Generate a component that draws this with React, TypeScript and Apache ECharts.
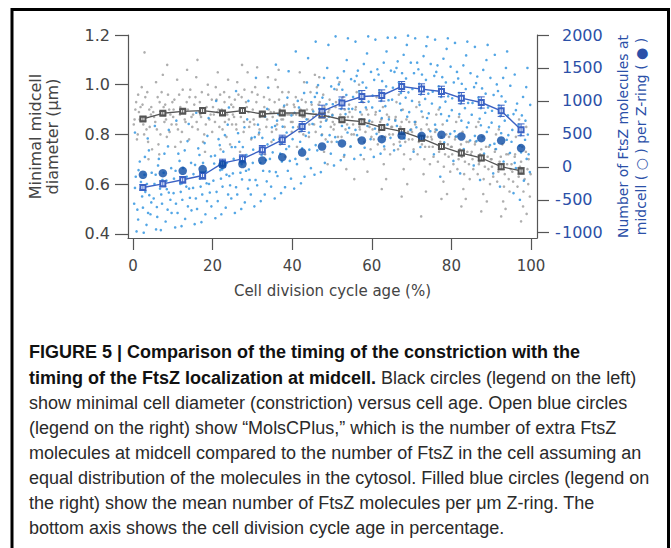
import React, { useEffect, useRef } from "react";
import * as echarts from "echarts";

// ---- data ----
const ages = [2.5, 7.5, 12.5, 17.5, 22.5, 27.5, 32.5, 37.5, 42.5, 47.5, 52.5, 57.5, 62.5, 67.5, 72.5, 77.5, 82.5, 87.5, 92.5, 97.5];
const diameter = [0.862, 0.885, 0.893, 0.896, 0.886, 0.896, 0.882, 0.886, 0.886, 0.878, 0.859, 0.851, 0.828, 0.812, 0.784, 0.751, 0.725, 0.705, 0.67, 0.653];
const diameterErr = [0.008, 0.007, 0.007, 0.008, 0.007, 0.008, 0.007, 0.007, 0.008, 0.008, 0.009, 0.009, 0.009, 0.01, 0.01, 0.01, 0.011, 0.011, 0.012, 0.013];
const molsCPlus = [-314, -258, -197, -132, 56, 121, 258, 410, 612, 840, 970, 1067, 1082, 1219, 1179, 1143, 1042, 976, 850, 561];
const molsCPlusErr = [45, 45, 50, 55, 60, 60, 65, 70, 75, 95, 90, 90, 85, 75, 80, 80, 85, 85, 85, 90];
const perZRing = [-121, -96, -61, -35, 30, 41, 96, 147, 217, 308, 355, 399, 420, 475, 470, 486, 460, 435, 399, 284];

const xTicks = [0, 20, 40, 60, 80, 100];
const leftTicks = [0.4, 0.6, 0.8, 1.0, 1.2];
const rightTicks = [-1000, -500, 0, 500, 1000, 1500, 2000];

// individual cell measurements (approximate, read from the scatter clouds)
const grayCloud = [
  [0.4, .86], [1.2, .80], [1.9, .91], [2.6, .84], [3.1, .95], [3.8, .77], [4.5, .88], [0.8, .93], [2.2, .99], [3.4, .82], [4.8, .74], [1.5, .89], [2.9, 1.13], [4.1, .90],
  [5.3, .87], [6.0, .82], [6.7, .93], [7.2, .97], [7.9, .85], [8.5, .79], [9.1, .90], [9.7, .84], [5.8, 1.01], [6.4, .76], [8.1, .92], [9.4, .88], [7.5, 1.04],
  [10.2, .90], [10.9, .84], [11.6, .96], [12.3, .81], [12.8, .89], [13.5, .93], [14.1, .78], [14.7, .87], [11.1, 1.02], [13.0, .86], [14.4, .98], [10.6, .75],
  [15.4, .92], [16.0, .85], [16.6, .89], [17.3, .97], [17.9, .80], [18.5, .91], [19.2, .86], [19.8, .94], [15.9, 1.03], [17.6, .77], [18.8, 1.00], [16.9, .88],
  [20.3, .88], [21.0, .94], [21.7, .83], [22.3, .90], [22.9, .97], [23.5, .79], [24.1, .86], [24.7, .92], [21.3, 1.05], [23.1, .85], [24.4, .76], [20.8, .99],
  [25.2, .91], [25.9, .84], [26.5, .96], [27.1, .87], [27.8, .81], [28.4, .93], [29.0, .89], [29.7, .78], [26.2, 1.01], [28.0, .98], [29.4, .85], [27.4, 1.08],
  [30.3, .86], [31.0, .93], [31.6, .80], [32.2, .89], [32.9, .95], [33.5, .83], [34.1, .90], [34.8, .77], [30.7, .99], [32.6, .74], [33.9, 1.03], [31.9, .87],
  [35.4, .89], [36.0, .82], [36.7, .94], [37.3, .86], [37.9, .91], [38.5, .79], [39.1, .97], [39.7, .85], [35.8, 1.02], [37.0, .76], [38.8, .88], [36.4, .99],
  [40.2, .88], [40.9, .95], [41.5, .83], [42.1, .90], [42.8, .80], [43.4, .93], [44.0, .86], [44.6, .97], [41.2, .75], [43.0, 1.01], [44.3, .84], [40.6, .91],
  [45.3, .87], [45.9, .81], [46.6, .92], [47.2, .85], [47.8, .96], [48.4, .78], [49.1, .89], [49.7, .83], [46.2, .99], [48.0, .73], [49.4, .94], [45.7, 1.04],
  [50.2, .85], [50.9, .91], [51.5, .79], [52.1, .88], [52.8, .95], [53.4, .82], [54.0, .87], [54.6, .75], [51.2, .98], [53.0, .71], [54.3, .92], [50.6, .84],
  [55.3, .84], [55.9, .90], [56.6, .78], [57.2, .86], [57.8, .93], [58.4, .81], [59.1, .88], [59.7, .74], [56.2, .97], [58.0, .70], [59.4, .83], [55.6, .62],
  [60.2, .82], [60.9, .88], [61.5, .76], [62.1, .85], [62.8, .91], [63.4, .79], [64.0, .84], [64.6, .72], [61.2, .95], [63.0, .68], [64.3, .87], [62.5, .58],
  [65.3, .80], [65.9, .86], [66.6, .74], [67.2, .83], [67.8, .90], [68.4, .77], [69.1, .81], [69.7, .70], [66.2, .93], [68.0, .66], [69.4, .85], [67.5, .55],
  [70.2, .78], [70.9, .84], [71.5, .72], [72.1, .80], [72.8, .87], [73.4, .75], [74.0, .79], [74.6, .68], [71.2, .91], [73.0, .64], [74.3, .82], [72.4, .47],
  [75.3, .75], [75.9, .81], [76.6, .69], [77.2, .77], [77.8, .84], [78.4, .72], [79.1, .76], [79.7, .65], [76.2, .88], [78.0, .61], [79.4, .79], [77.5, .54],
  [80.2, .72], [80.9, .78], [81.5, .66], [82.1, .74], [82.8, .81], [83.4, .69], [84.0, .73], [84.6, .62], [81.2, .85], [83.0, .58], [84.3, .77], [82.5, .51],
  [85.3, .70], [85.9, .76], [86.6, .64], [87.2, .72], [87.8, .79], [88.4, .67], [89.1, .71], [89.7, .60], [86.2, .83], [88.0, .56], [89.4, .75], [87.5, .49],
  [90.2, .67], [90.9, .73], [91.5, .61], [92.1, .69], [92.8, .76], [93.4, .64], [94.0, .68], [94.6, .57], [91.2, .80], [93.0, .53], [94.3, .72], [92.5, .47],
  [95.3, .65], [95.9, .71], [96.6, .59], [97.2, .67], [97.8, .75], [98.4, .62], [99.1, .66], [99.7, .55], [96.2, .79], [98.0, .51], [99.4, .70], [97.5, .45], [98.8, .83],
  [0.2, .84], [0.6, .90], [1.0, .78], [1.7, .86], [2.4, .92], [2.8, .80], [3.3, .87], [3.6, .97], [4.2, .83], [4.6, .91], [1.3, .96], [3.9, .70],
  [5.1, .89], [5.6, .85], [6.2, .95], [6.9, .80], [7.4, .88], [7.7, .91], [8.3, .86], [8.8, .96], [9.2, .81], [9.9, .93], [6.6, .72], [8.6, 1.08],
  [10.1, .87], [10.4, .94], [11.3, .82], [11.9, .91], [12.5, .98], [13.2, .85], [13.8, .90], [14.2, .95], [14.9, .83], [12.0, .77], [13.6, 1.06], [11.8, .88],
  [15.1, .88], [15.7, .95], [16.3, .82], [16.8, .93], [17.1, .87], [17.8, .90], [18.3, .84], [18.9, .96], [19.5, .88], [19.9, .81], [16.2, 1.10], [18.1, .73],
  [20.1, .91], [20.6, .85], [21.2, .89], [21.9, .96], [22.5, .82], [23.0, .93], [23.7, .88], [24.2, .95], [24.9, .84], [22.0, .74], [23.9, 1.02], [21.5, .90],
  [25.1, .88], [25.6, .94], [26.0, .82], [26.8, .90], [27.3, .95], [27.9, .85], [28.6, .91], [29.2, .83], [29.9, .97], [26.9, .73], [28.8, 1.05], [25.4, .87],
  [30.1, .90], [30.5, .84], [31.3, .96], [31.8, .82], [32.4, .88], [33.0, .91], [33.7, .86], [34.3, .94], [34.9, .81], [31.2, 1.07], [33.2, .72], [34.6, .89],
  [35.1, .87], [35.6, .93], [36.2, .84], [36.9, .90], [37.5, .97], [38.1, .83], [38.7, .92], [39.3, .88], [39.9, .81], [36.6, 1.06], [38.3, .71], [37.7, .86],
  [40.1, .85], [40.4, .92], [41.0, .88], [41.8, .81], [42.4, .94], [43.1, .87], [43.7, .90], [44.2, .79], [44.9, .92], [41.9, 1.05], [43.6, .70], [42.6, .87],
  [45.1, .90], [45.5, .84], [46.0, .88], [46.9, .93], [47.5, .80], [48.1, .91], [48.7, .86], [49.3, .90], [49.9, .77], [46.8, 1.03], [48.9, .68], [47.0, .88],
  [50.1, .88], [50.4, .82], [51.0, .93], [51.8, .86], [52.4, .79], [53.2, .90], [53.8, .84], [54.4, .89], [54.9, .80], [51.9, 1.01], [53.6, .66], [52.6, .86],
  [55.1, .87], [55.5, .80], [56.0, .91], [56.9, .83], [57.5, .88], [58.1, .77], [58.7, .90], [59.3, .85], [59.9, .79], [56.8, 1.00], [58.9, .65], [57.0, .82],
  [60.1, .85], [60.5, .78], [61.0, .89], [61.8, .81], [62.4, .86], [63.2, .74], [63.8, .88], [64.4, .80], [64.9, .83], [61.9, .97], [63.6, .62], [62.6, .79],
  [65.1, .83], [65.5, .76], [66.0, .87], [66.9, .79], [67.5, .85], [68.1, .72], [68.7, .86], [69.3, .78], [69.9, .82], [66.8, .96], [68.9, .60], [67.0, .77],
  [70.1, .81], [70.5, .74], [71.0, .85], [71.8, .77], [72.4, .82], [73.2, .70], [73.8, .84], [74.4, .75], [74.9, .79], [71.9, .93], [73.6, .57], [72.6, .76],
  [75.1, .78], [75.5, .71], [76.0, .82], [76.9, .73], [77.5, .79], [78.1, .67], [78.7, .80], [79.3, .71], [79.9, .75], [76.8, .90], [78.9, .56], [77.0, .74],
  [80.1, .75], [80.5, .68], [81.0, .79], [81.8, .70], [82.4, .76], [83.2, .64], [83.8, .77], [84.4, .68], [84.9, .72], [81.9, .87], [83.6, .54], [82.6, .71],
  [85.1, .73], [85.5, .66], [86.0, .77], [86.9, .68], [87.5, .74], [88.1, .62], [88.7, .75], [89.3, .66], [89.9, .70], [86.8, .85], [88.9, .53], [87.0, .69],
  [90.1, .70], [90.5, .63], [91.0, .74], [91.8, .65], [92.4, .71], [93.2, .59], [93.8, .72], [94.4, .62], [94.9, .66], [91.9, .82], [93.6, .50], [92.6, .67],
  [95.1, .68], [95.5, .61], [96.0, .72], [96.9, .63], [97.5, .69], [98.1, .57], [98.7, .73], [99.3, .60], [99.9, .64], [96.8, .81], [98.9, .48], [97.0, .86],
];

const blueCloud = [
  [0.5, -320], [1.1, -650], [1.7, 80], [2.3, -450], [2.9, -120], [3.4, -880], [4.0, 250], [4.6, -540], [0.9, -980], [2.0, -230], [3.7, 430], [4.4, -720], [1.4, -50], [3.1, -380],
  [5.4, -260], [6.0, -610], [6.5, 120], [7.1, -420], [7.7, -90], [8.2, -830], [8.8, 310], [9.4, -500], [5.8, -950], [7.4, -200], [9.0, 560], [9.7, -700], [6.3, 20], [8.5, -340],
  [10.3, -180], [10.8, -560], [11.4, 200], [12.0, -380], [12.6, -20], [13.1, -790], [13.7, 390], [14.3, -470], [10.6, -920], [12.3, -250], [14.0, 650], [14.7, -660], [11.7, 90], [13.4, -300],
  [15.2, -110], [15.8, -480], [16.4, 280], [17.0, -300], [17.6, 60], [18.2, -720], [18.7, 470], [19.3, -390], [15.5, -870], [17.3, -160], [19.0, 740], [19.7, -600], [16.7, 180], [18.5, -250],
  [20.4, 50], [21.0, -380], [21.5, 420], [22.1, -180], [22.7, 230], [23.3, -620], [23.8, 640], [24.4, -280], [20.7, -780], [22.4, -40], [24.1, 900], [24.7, -480], [21.8, 330], [23.5, -120],
  [25.3, 120], [25.9, -310], [26.4, 510], [27.0, -90], [27.6, 300], [28.1, -540], [28.7, 720], [29.3, -200], [25.6, -700], [27.3, 40], [29.0, 1000], [29.6, -420], [26.7, 380], [28.4, -60],
  [30.2, 260], [30.8, -200], [31.4, 640], [32.0, 60], [32.5, 440], [33.1, -420], [33.7, 880], [34.3, -70], [30.5, -600], [32.3, 180], [34.0, 1200], [34.7, -300], [31.7, 520], [33.4, 100],
  [35.3, 410], [35.9, -80], [36.5, 800], [37.0, 200], [37.6, 610], [38.2, -310], [38.8, 1050], [39.4, 90], [35.6, -480], [37.3, 350], [39.1, 1450], [39.7, -180], [36.2, 700], [38.5, 270],
  [40.2, 600], [40.8, 120], [41.4, 1000], [42.0, 380], [42.6, 820], [43.1, -150], [43.7, 1280], [44.3, 260], [40.5, -330], [42.3, 540], [44.0, 1650], [44.7, -20], [41.7, 900], [43.4, 470],
  [45.3, 840], [45.9, 330], [46.5, 1240], [47.1, 610], [47.6, 1050], [48.2, 60], [48.8, 1500], [49.4, 480], [45.6, -120], [47.3, 770], [49.1, 1850], [49.7, 200], [46.2, 1120], [48.5, 700],
  [50.2, 950], [50.8, 450], [51.4, 1350], [52.0, 720], [52.6, 1170], [53.1, 180], [53.7, 1620], [54.3, 590], [50.5, 20], [52.3, 880], [54.0, 1950], [54.7, 310], [51.7, 1250], [53.4, 800],
  [55.3, 1060], [55.9, 560], [56.5, 1460], [57.1, 830], [57.7, 1280], [58.2, 290], [58.8, 1720], [59.4, 700], [55.6, 120], [57.4, 990], [59.1, 1980], [59.7, 420], [56.2, 1380], [58.5, 900],
  [60.2, 1080], [60.8, 580], [61.4, 1480], [62.0, 850], [62.6, 1300], [63.1, 310], [63.7, 1750], [64.3, 720], [60.5, 150], [62.3, 1000], [64.0, 1960], [64.7, 440], [61.7, 1400], [63.4, 920],
  [65.3, 1200], [65.9, 700], [66.5, 1600], [67.1, 960], [67.6, 1420], [68.2, 430], [68.8, 1850], [69.4, 830], [65.6, 250], [67.3, 1120], [69.1, 1990], [69.7, 560], [66.2, 1500], [68.5, 1050],
  [70.2, 1180], [70.8, 680], [71.4, 1580], [72.0, 940], [72.6, 1400], [73.1, 410], [73.7, 1830], [74.3, 810], [70.5, 230], [72.3, 1100], [74.0, 1970], [74.7, 540], [71.7, 1480], [73.4, 1030],
  [75.3, 1140], [75.9, 640], [76.5, 1540], [77.1, 900], [77.7, 1360], [78.2, 370], [78.8, 1790], [79.4, 770], [75.6, 190], [77.4, 1060], [79.1, 1950], [79.7, 500], [76.2, 1440], [78.5, 990],
  [80.2, 1040], [80.8, 540], [81.4, 1440], [82.0, 800], [82.6, 1260], [83.1, 270], [83.7, 1690], [84.3, 670], [80.5, 90], [82.3, 960], [84.0, 1900], [84.7, 400], [81.7, 1340], [83.4, 890],
  [85.3, 970], [85.9, 470], [86.5, 1370], [87.1, 730], [87.7, 1190], [88.2, 200], [88.8, 1620], [89.4, 600], [85.6, 20], [87.4, 890], [89.1, 1850], [89.7, 330], [86.2, 1270], [88.5, 820],
  [90.2, 850], [90.8, 350], [91.4, 1250], [92.0, 610], [92.6, 1070], [93.1, 80], [93.7, 1500], [94.3, 480], [90.5, -100], [92.3, 770], [94.0, 1750], [94.7, 210], [91.7, 1150], [93.4, 700],
  [95.3, 560], [95.9, 60], [96.5, 960], [97.1, 320], [97.7, 780], [98.2, -210], [98.8, 1210], [99.4, 190], [95.6, -400], [97.4, 480], [99.1, 1500], [99.7, -80], [96.2, 860], [98.5, 410],
  [0.3, -560], [0.7, -150], [1.3, -800], [1.9, -340], [2.5, -620], [3.0, 150], [3.5, -260], [4.1, -430], [4.7, -90], [2.7, -1000], [0.5, 520], [3.8, -700],
  [5.2, -480], [5.7, -120], [6.1, -760], [6.8, -330], [7.3, -560], [7.9, 200], [8.4, -210], [9.0, -390], [9.6, -20], [7.0, -960], [5.5, 620], [8.7, -650],
  [10.2, -400], [10.7, -60], [11.2, -700], [11.9, -260], [12.4, -500], [13.0, 250], [13.5, -150], [14.1, -330], [14.6, 60], [12.2, -900], [10.9, 700], [13.8, -600],
  [15.1, -320], [15.6, 30], [16.1, -640], [16.8, -180], [17.4, -420], [18.0, 360], [18.4, -70], [19.1, -260], [19.6, 160], [17.2, -840], [15.9, 820], [18.6, -520],
  [20.2, -210], [20.6, 170], [21.3, -520], [21.9, -50], [22.5, -300], [23.1, 480], [23.6, 60], [24.2, -140], [24.8, 300], [22.2, -720], [20.9, 1000], [23.9, -420],
  [25.1, -100], [25.7, 300], [26.2, -420], [26.9, 80], [27.4, -190], [28.0, 600], [28.5, 180], [29.1, -40], [29.8, 440], [27.2, -640], [25.9, 1150], [28.9, -330],
  [30.1, 60], [30.6, 450], [31.2, -280], [31.9, 240], [32.7, -60], [33.2, 760], [33.8, 340], [34.4, 120], [34.9, 600], [32.1, -520], [30.9, 1350], [33.6, -220],
  [35.1, 220], [35.7, 620], [36.3, -140], [36.8, 420], [37.4, 80], [38.0, 930], [38.6, 520], [39.2, 310], [39.8, 780], [37.2, -400], [35.9, 1550], [38.9, -60],
  [40.1, 420], [40.6, 820], [41.2, 40], [41.9, 640], [42.5, 280], [43.0, 1120], [43.6, 720], [44.2, 520], [44.8, 980], [42.2, -250], [40.9, 1750], [43.9, 120],
  [45.1, 650], [45.7, 1060], [46.3, 250], [46.8, 880], [47.4, 480], [48.0, 1350], [48.6, 950], [49.2, 760], [49.8, 1220], [47.2, -80], [45.9, 1900], [48.9, 380],
  [50.1, 780], [50.6, 1180], [51.2, 380], [51.9, 1020], [52.5, 620], [53.0, 1450], [53.6, 1090], [54.2, 880], [54.8, 1330], [52.2, 100], [50.9, 1980], [53.9, 520],
  [55.1, 880], [55.7, 1300], [56.3, 480], [56.8, 1140], [57.4, 720], [58.0, 1560], [58.6, 1200], [59.2, 990], [59.8, 1440], [57.2, 180], [55.9, 1900], [58.9, 620],
  [60.1, 900], [60.6, 1320], [61.2, 500], [61.9, 1160], [62.5, 740], [63.0, 1580], [63.6, 1220], [64.2, 1010], [64.8, 1460], [62.2, 200], [60.9, 1930], [63.9, 640],
  [65.1, 1020], [65.7, 1440], [66.3, 620], [66.8, 1280], [67.4, 860], [68.0, 1700], [68.6, 1340], [69.2, 1130], [69.8, 1580], [67.2, 320], [65.9, 1960], [68.9, 760],
  [70.1, 1000], [70.6, 1420], [71.2, 600], [71.9, 1260], [72.5, 840], [73.0, 1680], [73.6, 1320], [74.2, 1110], [74.8, 1560], [72.2, 300], [70.9, 1950], [73.9, 740],
  [75.1, 960], [75.7, 1380], [76.3, 560], [76.8, 1220], [77.4, 800], [78.0, 1640], [78.6, 1280], [79.2, 1070], [79.8, 1520], [77.2, -150], [75.9, 1930], [78.9, 700],
  [80.1, 860], [80.6, 1280], [81.2, 460], [81.9, 1120], [82.5, 700], [83.0, 1540], [83.6, 1180], [84.2, 970], [84.8, 1420], [82.2, -100], [80.9, 1880], [83.9, 600],
  [85.1, 790], [85.7, 1210], [86.3, 390], [86.8, 1050], [87.4, 630], [88.0, 1470], [88.6, 1110], [89.2, 900], [89.8, 1350], [87.2, -200], [85.9, 1820], [88.9, 530],
  [90.1, 670], [90.6, 1090], [91.2, 270], [91.9, 930], [92.5, 510], [93.0, 1350], [93.6, 990], [94.2, 780], [94.8, 1230], [92.2, -300], [90.9, 1700], [93.9, 410],
  [95.1, 380], [95.6, 800], [96.2, -20], [96.9, 640], [97.5, 220], [98.0, 1060], [98.6, 700], [99.2, 490], [99.8, 940], [97.2, -500], [95.9, 1400], [98.9, 120],
];

const captionLines = [
  "{b|FIGURE 5 | Comparison of the timing of the constriction with the}",
  "{b|timing of the FtsZ localization at midcell.} Black circles (legend on the left)",
  "show minimal cell diameter (constriction) versus cell age. Open blue circles",
  "(legend on the right) show \u201cMolsCPlus,\u201d which is the number of extra FtsZ",
  "molecules at midcell compared to the number of FtsZ in the cell assuming an",
  "equal distribution of the molecules in the cytosol. Filled blue circles (legend on",
  "the right) show the mean number of FtsZ molecules per \u03bcm Z-ring. The",
  "bottom axis shows the cell division cycle age in percentage.",
];
const captionY = [352, 377.5, 402.5, 427.5, 453, 478, 503, 528];

const AXIS_FONT = "DejaVu Sans";
const CAPTION_FONT = "Liberation Sans";
const GRAY_TEXT = "#444";
const BLUE_TEXT = "#2b50a8";
const BLUE_LINE = "#3b62c4";

function errorBarSeries(name: string, rows: number[][], yAxisIndex: number, color: string) {
  return {
    name,
    type: "custom",
    yAxisIndex,
    data: rows,
    encode: { x: 0, y: 1 },
    z: 4,
    renderItem: (_params: any, api: any) => {
      const x = api.value(0);
      const y = api.value(1);
      const e = api.value(2);
      const top = api.coord([x, y + e]);
      const bot = api.coord([x, y - e]);
      const hw = 3.5;
      const st = { stroke: color, lineWidth: 1 };
      return {
        type: "group",
        children: [
          { type: "line", shape: { x1: top[0], y1: top[1], x2: bot[0], y2: bot[1] }, style: st },
          { type: "line", shape: { x1: top[0] - hw, y1: top[1], x2: top[0] + hw, y2: top[1] }, style: st },
          { type: "line", shape: { x1: bot[0] - hw, y1: bot[1], x2: bot[0] + hw, y2: bot[1] }, style: st },
        ],
      };
    },
  };
}

export default function App() {
  const ref = useRef<HTMLDivElement>(null);
  useEffect(() => {
    if (!ref.current) return;
    const chart = echarts.init(ref.current, undefined, { renderer: "svg" });

    const diamPts = ages.map((a, i) => [a, diameter[i]]);
    const molsPts = ages.map((a, i) => [a, molsCPlus[i]]);
    const zPts = ages.map((a, i) => [a, perZRing[i]]);
    const diamErrRows = ages.map((a, i) => [a, diameter[i], diameterErr[i]]);
    const molsErrRows = ages.map((a, i) => [a, molsCPlus[i], molsCPlusErr[i]]);

    const axisLine = { show: true, onZero: false, lineStyle: { color: "#555", width: 1.2 } };

    const option: any = {
      animation: false,
      backgroundColor: "#fff",
      grid: { left: 128, right: 134, top: 35, bottom: 310, containLabel: false },
      xAxis: {
        type: "value",
        min: -1.25,
        max: 101.5,
        name: "Cell division cycle age (%)",
        nameLocation: "middle",
        nameGap: 45,
        nameTextStyle: { fontFamily: AXIS_FONT, fontSize: 15, color: GRAY_TEXT },
        axisLine,
        axisTick: { show: true, length: 12, customValues: xTicks, lineStyle: { color: "#555", width: 1.2 } },
        axisLabel: { customValues: xTicks, margin: 20, fontFamily: AXIS_FONT, fontSize: 15, color: GRAY_TEXT },
        splitLine: { show: false },
      },
      yAxis: [
        {
          type: "value",
          position: "left",
          min: 0.383,
          max: 1.2,
          name: "Minimal midcell\ndiameter (\u03bcm)",
          nameLocation: "middle",
          nameRotate: 90,
          nameGap: 67,
          nameTextStyle: { fontFamily: AXIS_FONT, fontSize: 16, color: GRAY_TEXT, lineHeight: 17 },
          axisLine,
          axisTick: { show: true, length: 13, customValues: leftTicks, lineStyle: { color: "#555", width: 1.2 } },
          axisLabel: {
            customValues: leftTicks,
            margin: 18,
            fontFamily: AXIS_FONT,
            fontSize: 16,
            color: GRAY_TEXT,
            formatter: (v: number) => v.toFixed(1),
          },
          splitLine: { show: false },
        },
        {
          type: "value",
          position: "right",
          min: -1080,
          max: 2000,
          name: "Number of FtsZ molecules at\nmidcell ( \u25cb ) per Z-ring ( \u25cf )",
          nameLocation: "middle",
          nameRotate: 90,
          nameGap: 74,
          nameTextStyle: { fontFamily: AXIS_FONT, fontSize: 14, color: BLUE_TEXT, lineHeight: 18 },
          axisLine,
          axisTick: { show: true, length: 12, customValues: rightTicks, lineStyle: { color: "#555", width: 1.2 } },
          axisLabel: {
            customValues: rightTicks,
            margin: 65,
            align: "right",
            fontFamily: AXIS_FONT,
            fontSize: 16,
            color: BLUE_TEXT,
            formatter: (v: number) => (v < 0 ? `{m|-}{n|${Math.abs(v)}}` : `{n|${v}}`),
            rich: {
              m: { width: 7, align: "left", fontFamily: AXIS_FONT, fontSize: 16, color: BLUE_TEXT },
              n: { width: 40, align: "left", fontFamily: AXIS_FONT, fontSize: 16, color: BLUE_TEXT },
            },
          },
          splitLine: { show: false },
        },
      ],
      series: [
        {
          name: "Cell diameters",
          type: "scatter",
          yAxisIndex: 0,
          data: grayCloud,
          symbolSize: 2.6,
          itemStyle: { color: "#9a9a9a" },
          z: 1,
          silent: true,
        },
        {
          name: "FtsZ at midcell per cell",
          type: "scatter",
          yAxisIndex: 1,
          data: blueCloud,
          symbolSize: 2.6,
          itemStyle: { color: "#2890de" },
          z: 1,
          silent: true,
        },
        {
          name: "Minimal midcell diameter",
          type: "line",
          yAxisIndex: 0,
          data: diamPts,
          symbol: "emptyRect",
          symbolSize: 5,
          lineStyle: { color: "#555", width: 1.3 },
          itemStyle: { color: "#555", borderWidth: 1 },
          z: 3,
        },
        errorBarSeries("Diameter error", diamErrRows, 0, "#555"),
        {
          name: "MolsCPlus",
          type: "line",
          yAxisIndex: 1,
          data: molsPts,
          symbol: "emptyRect",
          symbolSize: 5,
          lineStyle: { color: BLUE_LINE, width: 1.4 },
          itemStyle: { color: BLUE_LINE, borderWidth: 1 },
          z: 3,
        },
        errorBarSeries("MolsCPlus error", molsErrRows, 1, BLUE_LINE),
        {
          name: "FtsZ per \u03bcm Z-ring",
          type: "scatter",
          yAxisIndex: 1,
          data: zPts,
          symbol: "circle",
          symbolSize: 8.5,
          itemStyle: { color: "#0b4ba4" },
          z: 5,
        },
      ],
      graphic: [
        {
          type: "rect",
          shape: { x: 12, y: 9.5, width: 656.5, height: 600 },
          style: { fill: "none", stroke: "#000", lineWidth: 3 },
          silent: true,
        },
        ...captionLines.map((t, i) => ({
          type: "text",
          x: 29,
          y: captionY[i],
          style: {
            text: t,
            fontFamily: CAPTION_FONT,
            fontSize: 18,
            fill: "#2a2a2a",
            verticalAlign: "middle",
            rich: {
              b: { fontFamily: CAPTION_FONT, fontSize: 18, fontWeight: "bold", fill: "#111" },
            },
          },
          silent: true,
        })),
      ],
    };

    chart.setOption(option);
    return () => chart.dispose();
  }, []);

  return (
    <div
      ref={ref}
      style={{ position: "fixed", left: 0, top: 0, width: 671, height: 548, background: "#fff" }}
    />
  );
}
